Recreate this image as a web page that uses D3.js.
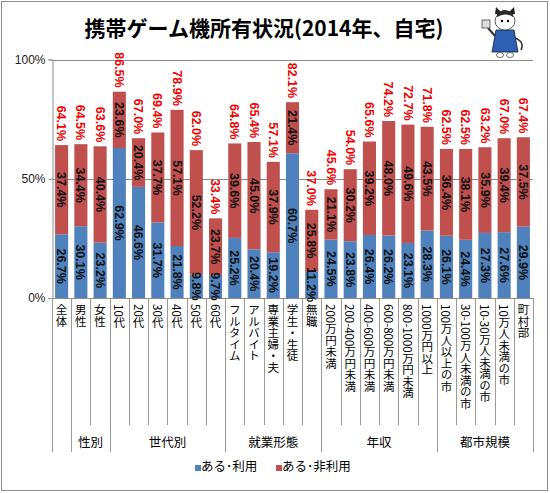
<!DOCTYPE html>
<html>
<head>
<meta charset="utf-8">
<script src="https://cdn.jsdelivr.net/npm/d3@7"></script>
<style>
  body { margin: 0; background: #fff; }
  svg { display: block; font-family: "Noto Sans CJK JP", "Liberation Sans", sans-serif; }
</style>
</head>
<body>
<div id="chart"></div>
<script>
var categories = ["全体", "男性", "女性", "10代", "20代", "30代", "40代", "50代", "60代",
  "フルタイム", "アルバイト", "専業主婦・夫", "学生・生徒", "無職",
  "200万円未満", "200-400万円未満", "400-600万円未満", "600-800万円未満", "800-1000万円未満", "1000万円以上",
  "100万人以上の市", "30-100万人未満の市", "10-30万人未満の市", "10万人未満の市", "町村部"];

// ある・利用
var useValues = [26.7, 30.1, 23.2, 62.9, 46.6, 31.7, 21.8, 9.8, 9.7, 25.2, 20.4, 19.2, 60.7, 11.2,
  24.5, 23.8, 26.4, 26.2, 23.1, 28.3, 26.1, 24.4, 27.3, 27.6, 29.9];
// ある・非利用
var noUseValues = [37.4, 34.4, 40.4, 23.6, 20.4, 37.7, 57.1, 52.2, 23.7, 39.6, 45.0, 37.9, 21.4, 25.8,
  21.1, 30.2, 39.2, 48.0, 49.6, 43.5, 36.4, 38.1, 35.9, 39.4, 37.5];
// 合計(所有率)
var totalValues = [64.1, 64.5, 63.6, 86.5, 67.0, 69.4, 78.9, 62.0, 33.4, 64.8, 65.4, 57.1, 82.1, 37.0,
  45.6, 54.0, 65.6, 74.2, 72.7, 71.8, 62.5, 62.5, 63.2, 67.0, 67.4];

// groups: label, first index, last index
var groupNames = ["", "性別", "世代別", "就業形態", "年収", "都市規模"];
var groupStarts = [0, 1, 3, 9, 14, 20];
var groupEnds = [0, 2, 8, 13, 19, 24];

var seriesNames = ["ある･利用", "ある･非利用"];
var yTicks = [0, 50, 100];

var width = 550, height = 493;
var blue = "#4F81BD", red = "#C0504D";

var svg = d3.select("#chart").append("svg")
    .attr("width", width)
    .attr("height", height);

// outer frame
svg.append("rect")
    .attr("x", 1.5).attr("y", 1.5)
    .attr("width", 546).attr("height", 489)
    .attr("fill", "#fff")
    .attr("stroke", "#8c8c8c");

svg.append("text")
    .attr("x", 264)
    .attr("y", 36)
    .attr("text-anchor", "middle")
    .attr("font-size", 21)
    .attr("font-weight", "bold")
    .attr("fill", "#000")
    .text("携帯ゲーム機所有状況(2014年、自宅)");

var x = d3.scaleBand()
    .domain(categories)
    .range([52, 533])
    .paddingInner(0.32)
    .paddingOuter(0.16);

var y = d3.scaleLinear()
    .domain([0, 100])
    .range([298, 59.5]);

var step = x.step();

// gridlines
svg.append("g").selectAll("line")
    .data(yTicks.filter(function(t) { return t > 0; }))
    .enter().append("line")
    .attr("x1", 52).attr("x2", 533)
    .attr("y1", function(d) { return Math.round(y(d)) + 0.5; })
    .attr("y2", function(d) { return Math.round(y(d)) + 0.5; })
    .attr("stroke", "#8c8c8c");

// y axis
var yAxis = d3.axisLeft(y)
    .tickValues(yTicks)
    .tickSize(4)
    .tickFormat(function(d) { return d + "%"; });

var gy = svg.append("g")
    .attr("transform", "translate(52.5,0)")
    .call(yAxis);
gy.select(".domain").attr("stroke", "#8c8c8c");
gy.selectAll(".tick line").attr("stroke", "#8c8c8c");
gy.selectAll(".tick text")
    .attr("font-family", "Liberation Sans, sans-serif")
    .attr("font-size", 12)
    .attr("fill", "#222");

// separators under the axis
var bounds = d3.range(categories.length + 1);
var longBounds = groupStarts.concat([categories.length]);
svg.append("g").selectAll("line")
    .data(bounds)
    .enter().append("line")
    .attr("x1", function(i) { return Math.round(52 + i * step) + 0.5; })
    .attr("x2", function(i) { return Math.round(52 + i * step) + 0.5; })
    .attr("y1", 298)
    .attr("y2", function(i) { return longBounds.indexOf(i) >= 0 ? 452 : 425; })
    .attr("stroke", "#9a9a9a");

// bars
var bars = svg.append("g");
bars.selectAll(".use")
    .data(useValues)
    .enter().append("rect")
    .attr("class", "use")
    .attr("x", function(d, i) { return x(categories[i]); })
    .attr("width", x.bandwidth())
    .attr("y", function(d) { return y(d); })
    .attr("height", function(d) { return y(0) - y(d); })
    .attr("fill", blue);

bars.selectAll(".nouse")
    .data(noUseValues)
    .enter().append("rect")
    .attr("class", "nouse")
    .attr("x", function(d, i) { return x(categories[i]); })
    .attr("width", x.bandwidth())
    .attr("y", function(d, i) { return y(useValues[i] + d); })
    .attr("height", function(d, i) { return y(useValues[i]) - y(useValues[i] + d); })
    .attr("fill", red);

// x axis line
svg.append("line")
    .attr("x1", 52).attr("x2", 533)
    .attr("y1", 298.5).attr("y2", 298.5)
    .attr("stroke", "#8c8c8c");

function cx(i) { return x(categories[i]) + x.bandwidth() / 2; }

var labelFont = "Liberation Sans, sans-serif";

// segment labels
var labels = svg.append("g")
    .attr("font-family", labelFont)
    .attr("font-size", 12.5)
    .attr("font-weight", "bold");

labels.selectAll(".lu")
    .data(useValues)
    .enter().append("text")
    .attr("transform", function(d, i) {
        return "translate(" + cx(i) + "," + y(d / 2) + ") rotate(90)";
    })
    .attr("text-anchor", "middle")
    .attr("dy", "0.35em")
    .attr("fill", "#111")
    .text(function(d) { return d.toFixed(1) + "%"; });

labels.selectAll(".ln")
    .data(noUseValues)
    .enter().append("text")
    .attr("transform", function(d, i) {
        return "translate(" + cx(i) + "," + y(useValues[i] + d / 2) + ") rotate(90)";
    })
    .attr("text-anchor", "middle")
    .attr("dy", "0.35em")
    .attr("fill", "#111")
    .text(function(d) { return d.toFixed(1) + "%"; });

labels.selectAll(".lt")
    .data(totalValues)
    .enter().append("text")
    .attr("transform", function(d, i) {
        return "translate(" + cx(i) + "," + (y(useValues[i] + noUseValues[i]) - 4) + ") rotate(90)";
    })
    .attr("text-anchor", "end")
    .attr("dy", "0.35em")
    .attr("fill", "#f00000")
    .text(function(d) { return d.toFixed(1) + "%"; });

// category labels (vertical)
svg.append("g").selectAll("text")
    .data(categories)
    .enter().append("text")
    .attr("x", function(d) { return x(d) + x.bandwidth() / 2; })
    .attr("y", 304)
    .style("writing-mode", "vertical-rl")
    .style("text-orientation", "mixed")
    .attr("font-size", 11.5)
    .attr("fill", "#000")
    .text(function(d) { return d; });

// group labels
svg.append("g").selectAll("text")
    .data(groupNames)
    .enter().append("text")
    .attr("x", function(d, i) {
        return (x(categories[groupStarts[i]]) + x(categories[groupEnds[i]]) + x.bandwidth()) / 2;
    })
    .attr("y", 447)
    .attr("text-anchor", "middle")
    .attr("font-size", 12.5)
    .attr("fill", "#000")
    .text(function(d) { return d; });

// legend
var legend = svg.append("g");
var legendX = [195, 276];
var legendColors = [blue, red];
seriesNames.forEach(function(name, i) {
    legend.append("rect")
        .attr("x", legendX[i]).attr("y", 465)
        .attr("width", 6).attr("height", 6)
        .attr("fill", legendColors[i]);
    legend.append("text")
        .attr("x", legendX[i] + 6)
        .attr("y", 471)
        .attr("font-size", 12.5)
        .attr("fill", "#000")
        .text(name);
});

// mascot (simple cat figure)
var m = svg.append("g").attr("transform", "translate(505,8)");
m.append("path")
    .attr("d", "M-9,22 L9,22 L13,44 L-13,44 Z")
    .attr("fill", "#2f5fb3").attr("stroke", "#123").attr("stroke-width", 0.8);
m.append("ellipse").attr("cx", -5).attr("cy", 47).attr("rx", 3.5).attr("ry", 2.5)
    .attr("fill", "#fff").attr("stroke", "#333").attr("stroke-width", 0.7);
m.append("ellipse").attr("cx", 5).attr("cy", 47).attr("rx", 3.5).attr("ry", 2.5)
    .attr("fill", "#fff").attr("stroke", "#333").attr("stroke-width", 0.7);
m.append("path")
    .attr("d", "M-10,6 L-9,-1 L-4,4 L4,4 L9,-1 L10,6 Z")
    .attr("fill", "#222");
m.append("ellipse").attr("cx", 0).attr("cy", 13).attr("rx", 10).attr("ry", 9)
    .attr("fill", "#fff").attr("stroke", "#333").attr("stroke-width", 0.8);
m.append("path")
    .attr("d", "M-8,6 Q0,-2 8,6 L8,9 Q0,4 -8,9 Z")
    .attr("fill", "#2a2a2a");
m.append("circle").attr("cx", -3).attr("cy", 13).attr("r", 1.2).attr("fill", "#000");
m.append("circle").attr("cx", 3).attr("cy", 13).attr("r", 1.2).attr("fill", "#000");
m.append("path").attr("d", "M-10,28 L-17,20").attr("stroke", "#333").attr("stroke-width", 2);
m.append("rect").attr("x", -23).attr("y", 12).attr("width", 8).attr("height", 8)
    .attr("fill", "#ddd").attr("stroke", "#333").attr("stroke-width", 0.7);
m.append("path").attr("d", "M10,30 Q20,34 16,42").attr("fill", "none")
    .attr("stroke", "#333").attr("stroke-width", 1.5);
</script>
</body>
</html>
